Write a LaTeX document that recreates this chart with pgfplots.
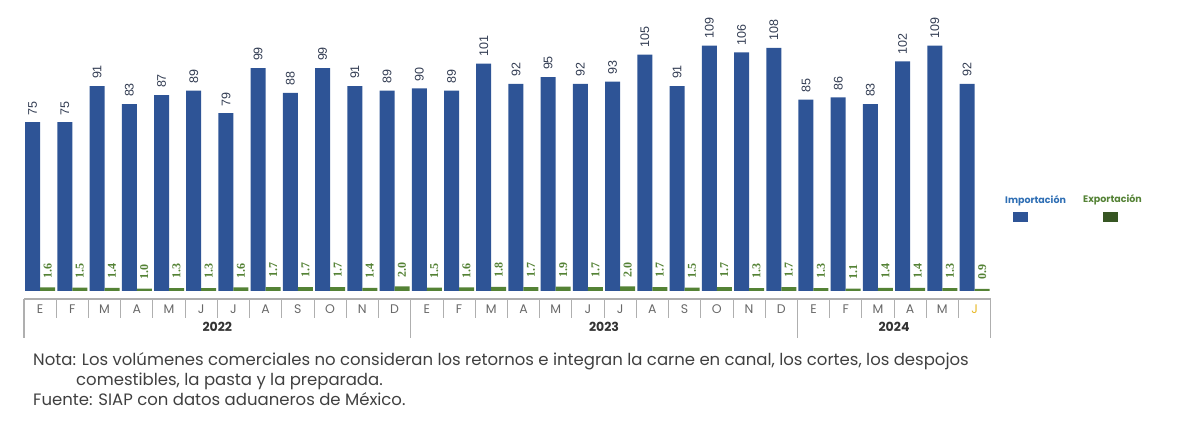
\documentclass[border=0pt]{standalone}
\usepackage{fontspec}
\setmainfont{Liberation Sans}
\newfontfamily\pop{Poppins}
\newfontfamily\lserif{Liberation Serif}
\usepackage{pgfplots}
\usepackage{pgfplotstable}
\pgfplotsset{compat=1.18}
\definecolor{impblue}{RGB}{46,84,150}
\definecolor{expgreen}{RGB}{84,130,53}
\definecolor{expdark}{RGB}{55,86,35}
\definecolor{lblblue}{RGB}{50,60,82}
\definecolor{lblgreen}{RGB}{84,130,53}
\definecolor{tblgray}{RGB}{175,175,175}
\definecolor{mongray}{RGB}{105,105,105}
\definecolor{gold}{RGB}{232,185,40}
\definecolor{legblue}{RGB}{46,110,180}
\definecolor{notegray}{RGB}{64,64,64}
\pgfplotstableread{
x imp exp
0 75 1.6
1 75 1.5
2 91 1.4
3 83 1.0
4 87 1.3
5 89 1.3
6 79 1.6
7 99 1.7
8 88 1.7
9 99 1.7
10 91 1.4
11 89 2.0
12 90 1.5
13 89 1.6
14 101 1.8
15 92 1.7
16 95 1.9
17 92 1.7
18 93 2.0
19 105 1.7
20 91 1.5
21 109 1.7
22 106 1.3
23 108 1.7
24 85 1.3
25 86 1.1
26 83 1.4
27 102 1.4
28 109 1.3
29 92 0.9
}\datatable
\begin{document}
\begin{tikzpicture}
\useasboundingbox (0,0) rectangle (1178pt,428pt);
\begin{axis}[
  at={(24pt,137pt)}, anchor=south west,
  scale only axis, width=966.7pt, height=291pt,
  xmin=-0.5, xmax=29.5, ymin=0, ymax=129.3,
  axis line style={draw=none},
  ytick=\empty,
  xtick={0,...,29},
  xticklabels={E,F,M,A,M,J,J,A,S,O,N,D,E,F,M,A,M,J,J,A,S,O,N,D,E,F,M,A,M,{\textcolor{gold}{J}}},
  major tick length=0pt,
  xticklabel style={font=\pop\fontsize{12.5}{14}\selectfont, text=mongray, anchor=base, yshift=-23pt},
  clip=false,
  /pgf/number format/assume math mode=true,
]
\addplot[ybar, bar width=15pt, bar shift=0pt, fill=impblue, draw=none,
  nodes near coords={\pgfmathprintnumber[fixed,precision=0]{\pgfplotspointmeta}},
  nodes near coords style={rotate=90, anchor=west, inner xsep=7pt, inner ysep=0pt,
    font=\fontsize{12.5}{14}\selectfont, text=lblblue}]
  table[x expr=\thisrow{x}-0.2328, y=imp]{\datatable};
\addplot[ybar, bar width=15pt, bar shift=0pt, fill=expgreen, draw=none,
  nodes near coords={\pgfmathprintnumber[fixed,fixed zerofill,precision=1]{\pgfplotspointmeta}},
  nodes near coords style={rotate=90, anchor=west, inner xsep=9pt, inner ysep=0pt,
    font=\lserif\bfseries\fontsize{12}{14}\selectfont, text=lblgreen}]
  table[x expr=\thisrow{x}+0.2328, y=exp]{\datatable};
% category table
\draw[tblgray, line width=1.3pt] ([yshift=-8pt]axis cs:-0.5,0) -- ([yshift=-8pt]axis cs:29.5,0);
\pgfplotsinvokeforeach{0.5,1.5,...,10.5,12.5,13.5,...,22.5,24.5,25.5,...,28.5}{
  \draw[tblgray, line width=0.8pt] ([yshift=-8pt]axis cs:#1,0) -- ([yshift=-27pt]axis cs:#1,0);
}
\pgfplotsinvokeforeach{-0.5,11.5,23.5,29.5}{
  \draw[tblgray, line width=1.3pt] ([yshift=-8pt]axis cs:#1,0) -- ([yshift=-47pt]axis cs:#1,0);
}
\node[font=\pop\bfseries\fontsize{12.5}{14}\selectfont, text=black!80, anchor=base] at ([yshift=-41pt]axis cs:5.5,0) {2022};
\node[font=\pop\bfseries\fontsize{12.5}{14}\selectfont, text=black!80, anchor=base] at ([yshift=-41pt]axis cs:17.5,0) {2023};
\node[font=\pop\bfseries\fontsize{12.5}{14}\selectfont, text=black!80, anchor=base] at ([yshift=-41pt]axis cs:26.5,0) {2024};
\end{axis}
% legend
\node[font=\pop\bfseries\fontsize{9.5}{11}\selectfont, text=legblue, anchor=base west, inner sep=0pt] at (1005pt,224pt) {Importación};
\fill[impblue] (1013pt,206pt) rectangle (1028pt,216pt);
\node[font=\pop\bfseries\fontsize{9.5}{11}\selectfont, text=expgreen, anchor=base west, inner sep=0pt] at (1083pt,225pt) {Exportación};
\fill[expdark] (1103pt,206pt) rectangle (1118pt,216pt);
% notes
\node[font=\pop\fontsize{16.5}{18}\selectfont, text=notegray, anchor=base west, inner sep=0pt] at (33pt,62pt) {Nota: Los volúmenes comerciales no consideran los retornos e integran la carne en canal, los cortes, los despojos};
\node[font=\pop\fontsize{16.5}{18}\selectfont, text=notegray, anchor=base west, inner sep=0pt] at (76pt,42pt) {comestibles, la pasta y la preparada.};
\node[font=\pop\fontsize{16.5}{18}\selectfont, text=notegray, anchor=base west, inner sep=0pt] at (33pt,22pt) {Fuente: SIAP con datos aduaneros de México.};
\end{tikzpicture}
\end{document}
